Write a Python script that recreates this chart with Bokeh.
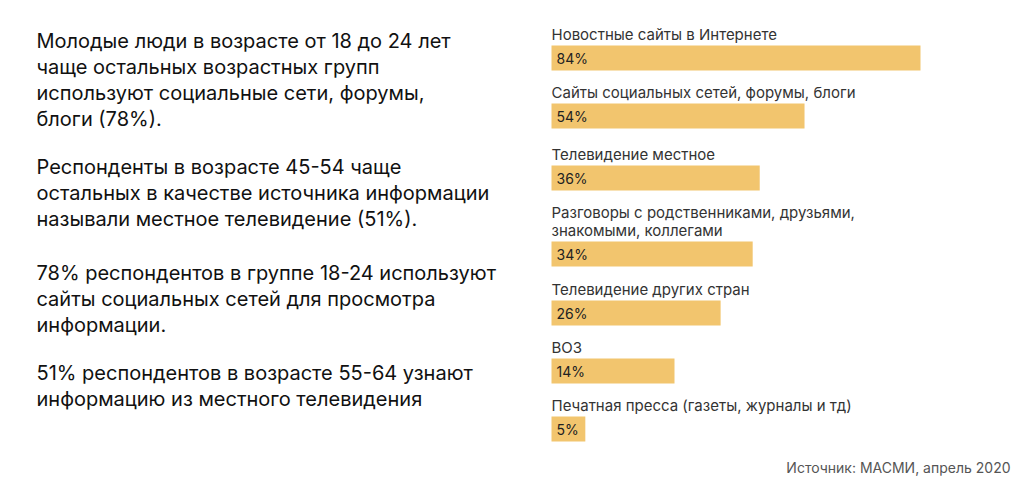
from bokeh.plotting import figure
from bokeh.models import Range1d, Label, ColumnDataSource
from bokeh.core.properties import value
from bokeh.embed import file_html
from bokeh.resources import INLINE

# ---- data ----
categories = [
    "Новостные сайты в Интернете",
    "Сайты социальных сетей, форумы, блоги",
    "Телевидение местное",
    "Разговоры с родственниками, друзьями,\nзнакомыми, коллегами",
    "Телевидение других стран",
    "ВОЗ",
    "Печатная пресса (газеты, журналы и тд)",
]
shares = [84, 54, 36, 34, 26, 14, 5]                    # labelled values, %
bar_lengths = [84, 57.6, 47.4, 45.8, 38.5, 28.0, 7.7]   # drawn bar lengths
paragraphs = [
    ["Молодые люди в возрасте от 18 до 24 лет",
     "чаще остальных возрастных групп",
     "используют социальные сети, форумы,",
     "блоги (78%)."],
    ["Респонденты в возрасте 45-54 чаще",
     "остальных в качестве источника информации",
     "называли местное телевидение (51%)."],
    ["78% респондентов в группе 18-24 используют",
     "сайты социальных сетей для просмотра",
     "информации."],
    ["51% респондентов в возрасте 55-64 узнают",
     "информацию из местного телевидения"],
]
source_note = "Источник: МАСМИ, апрель 2020"

# ---- layout ----
W, H = 1024, 488
X0 = 551            # pixel where bars start
K = 369 / 84        # pixels per percent unit
bar_tops = [45, 103, 165, 241, 300, 358, 416]   # pixel rows
BAR_H = 25
para_tops = [40, 166, 272, 372]
LINE = 26
FONT = "Inter"

p = figure(width=W, height=H, output_backend="svg", toolbar_location=None,
           x_range=Range1d(-X0 / K, (W - X0) / K), y_range=Range1d(H, 0),
           min_border=0, outline_line_color=None)
p.axis.visible = False
p.grid.visible = False
p.background_fill_color = "white"
p.border_fill_color = "white"

yc = [t + BAR_H / 2 for t in bar_tops]
src = ColumnDataSource(dict(y=yc, right=bar_lengths,
                            pct=[f"{s}%" for s in shares]))
p.hbar(y="y", left=0, right="right", height=BAR_H, source=src,
       fill_color="#F2C56E", line_color=None)
p.text(x=0, y="y", text="pct", source=src, x_offset=5,
       text_font=value(FONT), text_font_size="14px", text_color="#222222",
       text_baseline="middle", text_align="left")

# category labels above bars
lx, ly, lt = [], [], []
for cat, top in zip(categories, bar_tops):
    lines = cat.split("\n")
    n = len(lines)
    for i, ln in enumerate(lines):
        lx.append(0)
        ly.append(top - 11 - (n - 1 - i) * 18)
        lt.append(ln)
p.text(x=lx, y=ly, text=lt, text_font=value(FONT), text_font_size="15px",
       text_color="#333333", text_baseline="middle", text_align="left")

# left paragraphs
for top, para in zip(para_tops, paragraphs):
    for i, ln in enumerate(para):
        p.add_layout(Label(x=36, y=H - (top + i * LINE), x_units="screen", y_units="screen",
                           text=ln, text_font=FONT, text_font_size="20px",
                           text_color="#111111", text_baseline="middle", text_align="left"))

p.add_layout(Label(x=1010, y=H - 467, x_units="screen", y_units="screen",
                   text=source_note, text_font=FONT, text_font_size="14px",
                   text_color="#555555", text_baseline="middle", text_align="right"))

open("out.html", "w").write(file_html(p, INLINE))
